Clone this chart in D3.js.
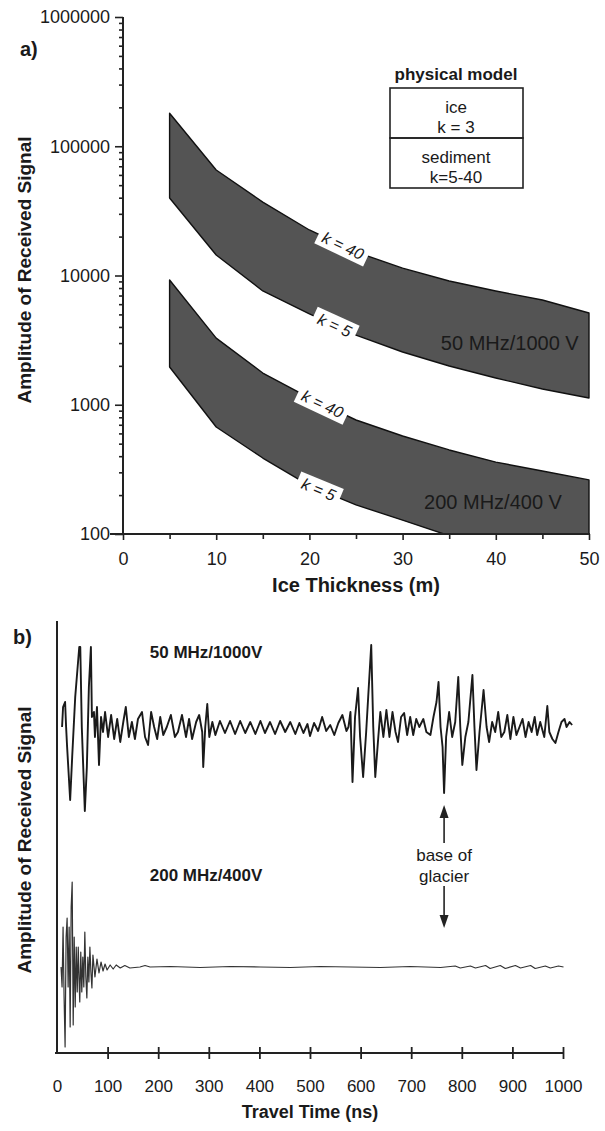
<!DOCTYPE html>
<html>
<head>
<meta charset="utf-8">
<script src="https://cdn.jsdelivr.net/npm/d3@7/dist/d3.min.js"></script>
<style>
	body { margin: 0; background: #fff; }
	svg text { font-family: "Liberation Sans", Arial, Helvetica, sans-serif; fill: #1a1a1a; }
</style>
</head>
<body>
<div id="chart-area"></div>
<script>
// ---- panel a : amplitude vs ice thickness (log scale) ----
var thickness = [5, 10, 15, 20, 25, 30, 35, 40, 45, 50];
var amp50k40 = [180000, 65500, 37000, 22500, 15200, 11400, 9060, 7590, 6460, 5130];
var amp50k5 = [39800, 14400, 7590, 5040, 3460, 2560, 1995, 1610, 1324, 1128];
var amp200k40 = [9230, 3280, 1760, 1128, 762, 573, 447, 360, 307, 262];
var amp200k5 = [1960, 673, 387, 237, 168, 128, 97, 78, 67, 57];
var yTicksA = [100, 1000, 10000, 100000, 1000000];
var xTicksA = [0, 10, 20, 30, 40, 50];
var xMinorA = [5, 15, 25, 35, 45];
var legendRows = [['ice', 'k = 3'], ['sediment', 'k=5-40']];

// ---- panel b : received traces vs travel time ----
var t50 = [10, 12, 16, 18, 20, 26, 30, 36, 44, 46, 49, 55, 59, 63, 67, 69, 73, 75, 79, 83,
	87, 91, 95, 101, 107, 113, 119, 125, 131, 136, 142, 148, 154, 160, 168, 174, 180, 186, 192, 198,
	204, 210, 217, 225, 233, 239, 247, 255, 261, 267, 275, 281, 287, 289, 293, 297, 301, 307, 313, 322,
	332, 342, 352, 362, 372, 382, 392, 402, 411, 421, 431, 441, 451, 461, 471, 479, 487, 495, 500, 508,
	516, 524, 532, 540, 548, 556, 564, 572, 576, 580, 584, 589, 595, 599, 605, 611, 615, 621, 625, 629,
	635, 639, 645, 651, 657, 663, 669, 674, 680, 686, 692, 698, 704, 710, 716, 724, 730, 738, 744, 750,
	754, 758, 762, 765, 769, 775, 781, 787, 793, 797, 801, 807, 813, 821, 825, 829, 835, 843, 849, 854,
	860, 866, 872, 878, 884, 890, 896, 902, 908, 914, 920, 926, 932, 938, 944, 949, 955, 963, 969, 973,
	979, 985, 991, 997, 1003, 1007, 1013, 1018];
var a50 = [0, 20, 25, 0, -20, -73, -30, 30, 80, 80, 0, -84, -40, 40, 80, 10, 15, -10, 20, -38,
	10, -5, 15, -10, 12, -12, 8, -15, 5, 20, -10, 5, -12, 8, 15, -10, -18, 15, 0, -12,
	10, -8, 0, 12, -10, -5, 12, -10, 8, -12, 5, 12, -5, -40, 0, 23, -10, 5, -8, 6,
	-6, 6, -7, 6, -6, 5, -7, 6, -6, 5, -7, 6, -5, 5, -7, 4, -6, 3, -9, 4,
	-4, 10, -4, 2, -8, 4, 12, -4, 0, 15, -55, 10, 39, -10, -50, -5, 30, 82, 0, -50,
	-10, 15, -10, 17, -10, 15, -5, -15, 10, 14, -8, 10, -8, 8, 0, 8, -5, -8, 10, 25,
	45, 0, -20, -66, -10, 15, -10, 5, 50, 0, -38, -10, 5, 52, 0, -43, -5, 37, 0, -15,
	5, -5, 15, -10, -5, 12, -12, 10, -8, 0, 8, -10, 5, -5, 10, -8, 5, -10, 21, -5,
	-12, -16, -5, 5, 8, 0, 5, 2];

var t200 = [8, 10, 12, 14, 16, 18, 20, 22, 24, 26, 28, 30, 32, 34, 36, 38, 40, 42, 44, 45,
	47, 49, 51, 53, 55, 57, 59, 61, 63, 65, 67, 69, 71, 75, 79, 83, 87, 91, 95, 99,
	105, 111, 117, 125, 134, 144, 164, 174, 184, 224, 283, 342, 402, 461, 520, 580, 639, 698, 758, 787,
	797, 817, 827, 847, 856, 876, 886, 906, 916, 936, 945, 965, 975, 991, 1001];
var a200 = [0, -20, 40, -30, -80, 30, 49, -20, 40, -60, 60, 85, -58, 30, -40, 20, -25, 20, -20, -35,
	15, -25, 10, -20, 35, -10, -31, 10, -15, 20, -5, -21, 12, -10, 8, -6, 5, -4, 3, -3,
	2, -2, 2, -1, 1.5, -1, 0, 1.5, 0, 0.5, -0.5, 0.5, 0, -0.5, 0.5, 0, -0.5, 0.5, -0.5, 1,
	-1, 1, -1, 1.5, -1.5, 1.5, -1.5, 1.5, -1, 1.5, -1.5, 1, -1, 1, 0];
var xTicksB = [0, 100, 200, 300, 400, 500, 600, 700, 800, 900, 1000];
var baseTime = 765;

var width = 605, height = 1131;

var svg = d3.select('#chart-area').append('svg')
	.attr('width', width)
	.attr('height', height);

// ================= panel a =================
var xA = d3.scaleLinear().domain([0, 50]).range([123, 589]);
var yA = d3.scaleLog().domain([100, 1000000]).range([534, 17]);

svg.append('clipPath').attr('id', 'clipA')
	.append('rect').attr('x', 123).attr('y', 17).attr('width', 470).attr('height', 517);

var bands = [
	{ lo: amp50k5, hi: amp50k40 },
	{ lo: amp200k5, hi: amp200k40 }
];

var area = d3.area()
	.x(d => xA(d.t))
	.y0(d => yA(d.lo))
	.y1(d => yA(d.hi));

var bandG = svg.append('g').attr('clip-path', 'url(#clipA)');
bands.forEach(b => {
	var pts = thickness.map((t, i) => ({ t: t, lo: b.lo[i], hi: b.hi[i] }));
	bandG.append('path')
		.attr('d', area(pts))
		.attr('fill', '#545454')
		.attr('stroke', '#111')
		.attr('stroke-width', 1.4)
		.attr('stroke-linejoin', 'round');
});

// point on a band edge at a given thickness, plus the slope angle there
function edgePoint(values, tv) {
	var i = d3.bisectRight(thickness, tv) - 1;
	i = Math.max(0, Math.min(thickness.length - 2, i));
	var x0 = xA(thickness[i]), y0 = yA(values[i]);
	var x1 = xA(thickness[i + 1]), y1 = yA(values[i + 1]);
	var f = (xA(tv) - x0) / (x1 - x0);
	return { x: x0 + f * (x1 - x0), y: y0 + f * (y1 - y0), a: Math.atan2(y1 - y0, x1 - x0) * 180 / Math.PI };
}

var kLabels = [
	{ vals: amp50k40, at: 23.6, text: 'k = 40' },
	{ vals: amp50k5, at: 22.7, text: 'k = 5' },
	{ vals: amp200k40, at: 21.4, text: 'k = 40' },
	{ vals: amp200k5, at: 21.0, text: 'k = 5' }
];

kLabels.forEach(k => {
	var p = edgePoint(k.vals, k.at);
	var lg = svg.append('g').attr('transform', `translate(${p.x}, ${p.y}) rotate(${p.a})`);
	var w = k.text.length > 5 ? 54 : 46;
	lg.append('rect')
		.attr('x', -w / 2).attr('y', -10)
		.attr('width', w).attr('height', 20)
		.attr('fill', '#fff');
	lg.append('text')
		.attr('text-anchor', 'middle')
		.attr('dy', '0.35em')
		.attr('font-size', '16px')
		.attr('font-style', 'italic')
		.text(k.text);
});

// band names
svg.append('text')
	.attr('x', xA(41.5)).attr('y', yA(3000))
	.attr('dy', '0.35em')
	.attr('text-anchor', 'middle')
	.attr('font-size', '20px')
	.text('50 MHz/1000 V');

svg.append('text')
	.attr('x', xA(39.7)).attr('y', yA(177))
	.attr('dy', '0.35em')
	.attr('text-anchor', 'middle')
	.attr('font-size', '20px')
	.text('200 MHz/400 V');

// axes
var yAxisA = svg.append('g').attr('transform', 'translate(123, 0)')
	.call(d3.axisLeft(yA).tickValues(yTicksA).tickFormat(d3.format('d')).tickSize(8).tickPadding(5));
var minorY = [];
yTicksA.slice(0, -1).forEach(d => { for (var m = 2; m < 10; m++) minorY.push(d * m); });
var yMinorA = svg.append('g').attr('transform', 'translate(123, 0)')
	.call(d3.axisLeft(yA).tickValues(minorY).tickFormat('').tickSize(4));

var xAxisA = svg.append('g').attr('transform', 'translate(0, 534)')
	.call(d3.axisBottom(xA).tickValues(xTicksA).tickSize(6).tickPadding(12));
var xMinorAxisA = svg.append('g').attr('transform', 'translate(0, 534)')
	.call(d3.axisBottom(xA).tickValues(xMinorA).tickFormat('').tickSize(5));

[yAxisA, yMinorA, xAxisA, xMinorAxisA].forEach(a => {
	a.select('.domain').remove();
	a.selectAll('line').attr('stroke', '#222').attr('stroke-width', 1.6);
	a.selectAll('text').attr('font-size', '18px').attr('fill', '#333')
		.style('font-family', '"Liberation Sans", Arial, sans-serif');
});

svg.append('line').attr('x1', 123).attr('x2', 123).attr('y1', yA(1000000)).attr('y2', 535)
	.attr('stroke', '#222').attr('stroke-width', 2);
svg.append('line').attr('x1', 110).attr('x2', xA(50) + 1).attr('y1', 534).attr('y2', 534)
	.attr('stroke', '#222').attr('stroke-width', 2);

svg.append('text')
	.attr('x', 20).attr('y', 56)
	.attr('font-size', '20px').attr('font-weight', 'bold')
	.text('a)');

svg.append('text')
	.attr('transform', 'translate(31, 270) rotate(-90)')
	.attr('text-anchor', 'middle')
	.attr('font-size', '19px').attr('font-weight', 'bold')
	.text('Amplitude of Received Signal');

svg.append('text')
	.attr('x', (xA(0) + xA(50)) / 2).attr('y', 592)
	.attr('text-anchor', 'middle')
	.attr('font-size', '20px').attr('font-weight', 'bold')
	.text('Ice Thickness (m)');

// legend box
var legend = svg.append('g').attr('transform', 'translate(390, 88)');
legend.append('text')
	.attr('x', 66).attr('y', -8)
	.attr('text-anchor', 'middle')
	.attr('font-size', '17px').attr('font-weight', 'bold')
	.text('physical model');
legendRows.forEach((row, i) => {
	legend.append('rect')
		.attr('x', 0).attr('y', i * 50)
		.attr('width', 133).attr('height', 50)
		.attr('fill', 'none').attr('stroke', '#222').attr('stroke-width', 1.6);
	row.forEach((txt, j) => {
		legend.append('text')
			.attr('x', 66).attr('y', i * 50 + 19 + j * 20)
			.attr('dy', '0.35em')
			.attr('text-anchor', 'middle')
			.attr('font-size', '17px')
			.text(txt);
	});
});

// ================= panel b =================
var xB = d3.scaleLinear().domain([0, 1000]).range([57, 563]);
var yB = d3.scaleLinear().domain([0, 432]).range([1053, 621]);
var offsets = { mhz50: 326, mhz200: 86 };

var line50 = d3.line().x((d, i) => xB(t50[i])).y(d => yB(offsets.mhz50 + d));
var line200 = d3.line().x((d, i) => xB(t200[i])).y(d => yB(offsets.mhz200 + d));

svg.append('path')
	.attr('d', line50(a50))
	.attr('fill', 'none')
	.attr('stroke', '#1a1a1a')
	.attr('stroke-width', 1.9)
	.attr('stroke-linejoin', 'round');

svg.append('path')
	.attr('d', line200(a200))
	.attr('fill', 'none')
	.attr('stroke', '#333')
	.attr('stroke-width', 1.2)
	.attr('stroke-linejoin', 'round');

var xAxisB = svg.append('g').attr('transform', 'translate(0, 1053)')
	.call(d3.axisBottom(xB).tickValues(xTicksB).tickFormat(d3.format('d')).tickSize(10));
xAxisB.select('.domain').remove();
xAxisB.selectAll('line').attr('y1', -6).attr('y2', 6).attr('stroke', '#222').attr('stroke-width', 1.8);
xAxisB.selectAll('.tick').filter(d => d === 0).select('line').remove();
xAxisB.selectAll('text').attr('y', 27).attr('font-size', '17px').attr('fill', '#333')
	.style('font-family', '"Liberation Sans", Arial, sans-serif');

svg.append('line').attr('x1', 55).attr('x2', xB(1000) + 1).attr('y1', 1053).attr('y2', 1053)
	.attr('stroke', '#222').attr('stroke-width', 2);
svg.append('line').attr('x1', 57).attr('x2', 57).attr('y1', 621).attr('y2', 1054)
	.attr('stroke', '#222').attr('stroke-width', 2);

svg.append('text')
	.attr('x', 13).attr('y', 644)
	.attr('font-size', '20px').attr('font-weight', 'bold')
	.text('b)');

svg.append('text')
	.attr('transform', 'translate(31, 840) rotate(-90)')
	.attr('text-anchor', 'middle')
	.attr('font-size', '19px').attr('font-weight', 'bold')
	.text('Amplitude of Received Signal');

svg.append('text')
	.attr('x', (xB(0) + xB(1000)) / 2).attr('y', 1118)
	.attr('text-anchor', 'middle')
	.attr('font-size', '18px').attr('font-weight', 'bold')
	.text('Travel Time (ns)');

svg.append('text')
	.attr('x', 206).attr('y', 652).attr('dy', '0.35em')
	.attr('text-anchor', 'middle')
	.attr('font-size', '17px').attr('font-weight', 'bold')
	.text('50 MHz/1000V');

svg.append('text')
	.attr('x', 206).attr('y', 875).attr('dy', '0.35em')
	.attr('text-anchor', 'middle')
	.attr('font-size', '17px').attr('font-weight', 'bold')
	.text('200 MHz/400V');

// base of glacier arrows
var bx = xB(baseTime);
function arrow(yFrom, yTip) {
	var dir = yTip < yFrom ? 1 : -1;
	svg.append('line')
		.attr('x1', bx).attr('x2', bx)
		.attr('y1', yFrom).attr('y2', yTip + dir * 10)
		.attr('stroke', '#222').attr('stroke-width', 1.6);
	svg.append('path')
		.attr('d', `M${bx},${yTip} L${bx - 4.5},${yTip + dir * 13} L${bx + 4.5},${yTip + dir * 13} Z`)
		.attr('fill', '#222');
}
arrow(843, 805);
arrow(886, 928);

svg.append('text')
	.attr('x', bx).attr('y', 855).attr('dy', '0.35em')
	.attr('text-anchor', 'middle')
	.attr('font-size', '17px')
	.text('base of');
svg.append('text')
	.attr('x', bx).attr('y', 876).attr('dy', '0.35em')
	.attr('text-anchor', 'middle')
	.attr('font-size', '17px')
	.text('glacier');
</script>
</body>
</html>
